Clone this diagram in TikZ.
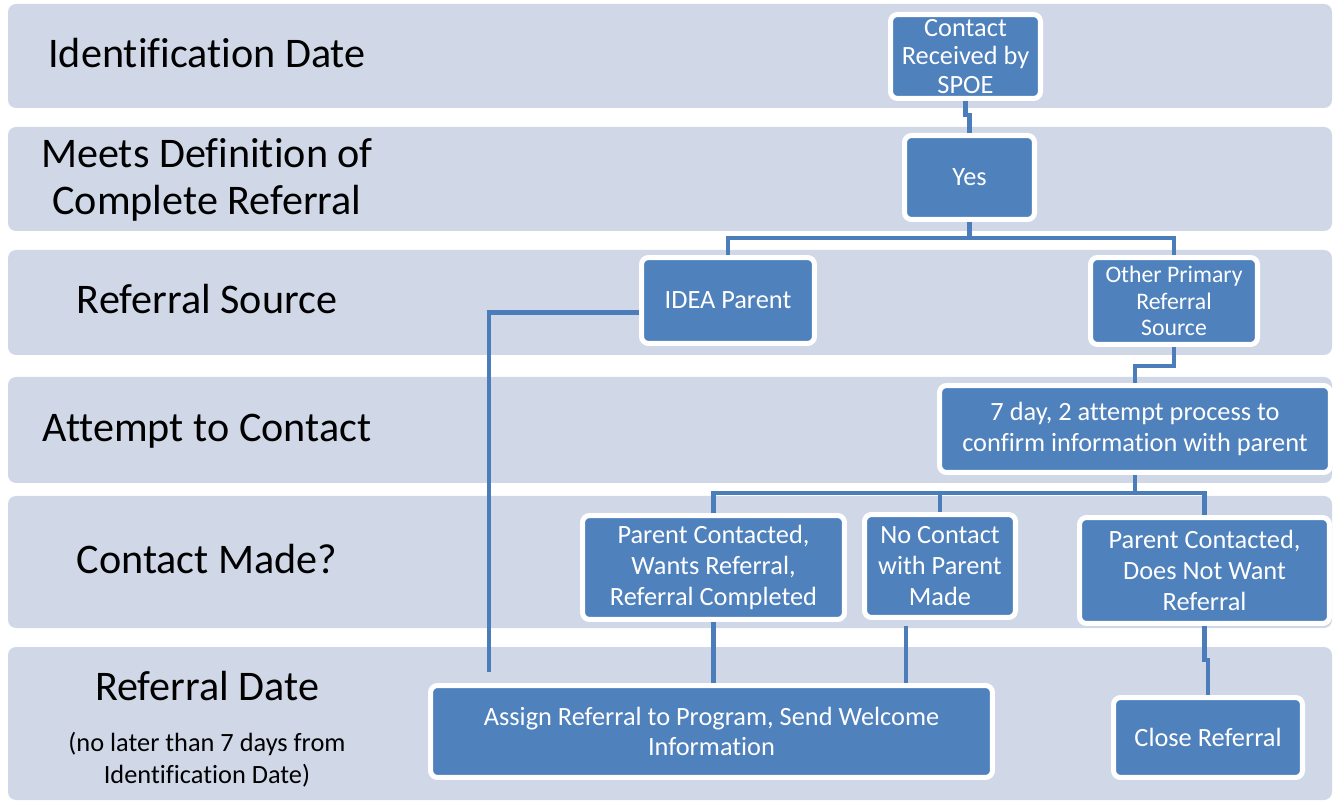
\documentclass[tikz,border=0pt]{standalone}
\usepackage{fontspec}
\setmainfont{Carlito}[Ligatures={NoCommon,NoContextual,NoRare}]
\usetikzlibrary{calc}
\definecolor{bandgray}{HTML}{D0D8E8}
\definecolor{boxblue}{HTML}{4F81BD}
\definecolor{linkblue}{HTML}{4A7DBA}
\begin{document}
\begin{tikzpicture}[x=0.02cm,y=-0.02cm,
	band/.style={fill=bandgray,rounded corners=0.16cm},
	lanelbl/.style={align=center,font=\fontsize{24}{27}\selectfont},
	stepbox/.style={fill=boxblue,draw=white,line width=2.85pt,rounded corners=0.14cm,text=white,align=center,inner sep=0pt,font=\fontsize{15}{17.5}\selectfont},
	link/.style={draw=linkblue,line width=2.8pt}]
		\useasboundingbox (0,0) rectangle (1335,803);
		% swimlanes
		\foreach \t/\b in {4/108,127/231,250/355,377/483,496/628,647/800}
			\fill[band] (8,\t) rectangle (1332,\b);
		\node[lanelbl,anchor=base] (l1) at (207,68) {Identification Date};
		\node[lanelbl] (l2) at (207,180) {Meets Definition of\\Complete Referral};
		\node[lanelbl,anchor=base] (l3) at (207,314) {Referral Source};
		\node[lanelbl,anchor=base] (l4) at (207,442) {Attempt to Contact};
		\node[lanelbl,anchor=base] (l5) at (207,573) {Contact Made?};
		\node[lanelbl,anchor=base] (l6) at (207,700) {Referral Date};
		\node[align=center,font=\fontsize{15}{18}\selectfont] (l6b) at (207,760) {(no later than 7 days from\\Identification Date)};
		% steps
		\node[stepbox,minimum width=3.0cm,minimum height=1.68cm,font=\fontsize{15}{16.3}\selectfont] (contact) at (965.5,56.5) {Contact\\Received by\\SPOE};
		\node[stepbox,minimum width=2.6cm,minimum height=1.68cm] (yes) at (969.5,177.5) {Yes};
		\node[stepbox,minimum width=3.46cm,minimum height=1.72cm] (idea) at (728,300.5) {IDEA Parent};
		\node[stepbox,minimum width=3.34cm,minimum height=1.74cm,font=\fontsize{13.5}{15}\selectfont] (other) at (1174,301) {Other Primary\\Referral\\Source};
		\node[stepbox,minimum width=7.82cm,minimum height=1.74cm] (attempt) at (1135,429) {7 day, 2 attempt process to\\confirm information with parent};
		\node[stepbox,minimum width=5.24cm,minimum height=2.08cm] (wants) at (713.5,567.5) {Parent Contacted,\\Wants Referral,\\Referral Completed};
		\node[stepbox,minimum width=3.02cm,minimum height=2.06cm] (nocontact) at (940,566) {No Contact\\with Parent\\Made};
		\node[stepbox,minimum width=5.0cm,minimum height=2.12cm] (notwant) at (1204.5,570.5) {Parent Contacted,\\Does Not Want\\Referral};
		\node[stepbox,minimum width=11.24cm,minimum height=1.84cm] (assign) at (711.5,731.5) {Assign Referral to Program, Send Welcome\\Information};
		\node[stepbox,minimum width=3.78cm,minimum height=1.6cm] (close) at (1208,737.5) {Close Referral};
		% links
		\draw[link] (contact.south) -- ++(0,14) -| (yes.north);
		\draw[link] (yes.south) -- ++(0,16) coordinate (split1);
		\draw[link] (idea.north) |- (split1) -| (other.north);
		\draw[link] (other.south) -- ++(0,19) -| (attempt.north);
		\draw[link] (attempt.south) -- ++(0,18) coordinate (split2);
		\draw[link] (wants.north) |- (split2) -| (notwant.north);
		\draw[link] (nocontact.north) -- (nocontact.north |- split2);
		\coordinate (ideaend) at (489,672);
		\draw[link] ($(idea.west)+(0,12)$) -| (ideaend);
		\draw[link] (wants.south) -- (wants.south |- assign.north);
		\coordinate (ncfoot) at ($(nocontact.south)+(-34,6)$);
		\draw[link] (ncfoot) -- (ncfoot |- assign.north);
		\draw[link] (notwant.south) -- ++(0,34) -| (close.north);
\end{tikzpicture}
\end{document}
